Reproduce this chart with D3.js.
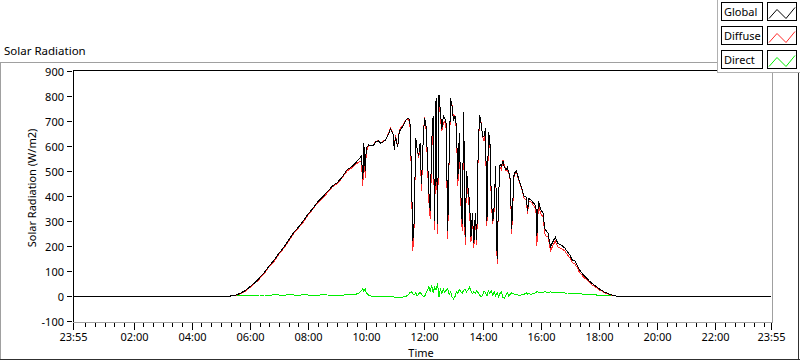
<!DOCTYPE html>
<html>
<head>
<meta charset="utf-8">
<script src="https://cdn.jsdelivr.net/npm/d3@7"></script>
<style>
  html, body { margin: 0; padding: 0; background: #ffffff; }
  svg { display: block; }
  text { font-family: "Noto Sans", "Open Sans", sans-serif; fill: #000; }
</style>
</head>
<body>
<script>
// ---------------- DATA ----------------
const times = [
  "23:55",
  "05:20","05:30","05:40","05:50","06:00","06:10","06:20","06:30","06:40","06:50",
  "07:00","07:10","07:20","07:30","07:40","07:50","08:00","08:10","08:20","08:30",
  "08:40","08:50","09:00","09:10","09:20","09:30","09:40",
  "09:45","09:50","09:53","09:55","09:58","10:00","10:05","10:10","10:15","10:20",
  "10:25","10:30","10:35","10:40","10:45","10:50","10:55","10:58","11:00","11:05",
  "11:08","11:10","11:15","11:20","11:25","11:30",
  "11:33","11:36","11:39","11:42","11:45","11:48","11:51","11:54","11:57","12:00",
  "12:03","12:06","12:09","12:12","12:15","12:18","12:21","12:24","12:27","12:30",
  "12:33","12:36","12:39","12:42","12:45","12:48","12:51","12:54","12:57","13:00",
  "13:03","13:06","13:09","13:12","13:15","13:18","13:21","13:24","13:27","13:30",
  "13:33","13:36","13:39","13:42","13:45","13:48","13:51","13:54","13:57","14:00",
  "14:03","14:06","14:09","14:12","14:15","14:18","14:21","14:24","14:27","14:30",
  "14:33","14:36","14:39","14:42","14:45","14:48","14:51","14:54","14:57","15:00",
  "15:05","15:10","15:15","15:20","15:25","15:30","15:33","15:35","15:40","15:45",
  "15:50","15:52","15:55","16:00","16:05","16:08","16:10",
  "16:15","16:20","16:25","16:30","16:35","16:40","16:45","16:50","16:55","17:00",
  "17:05","17:10","17:15","17:20","17:25","17:30","17:35","17:40","17:45","17:50",
  "17:55","18:00","18:05","18:10","18:15","18:20","18:25","18:30","18:35",
  "23:55"
];

const globalRad = [
  0,
  0,3,11,21,37,53,73,95,121,144,
  171,195,224,253,275,300,328,351,377,397,
  417,440,453,475,504,517,537,
  548,560,470,612,500,590,605,600,604,617,
  621,611,617,624,644,667,651,585,637,597,
  655,664,677,697,711,707,
  517,220,300,631,590,560,610,450,600,711,
  690,570,420,340,620,720,300,790,290,804,
  737,670,720,711,690,260,560,790,760,700,
  720,680,470,650,410,290,737,235,500,430,
  380,237,330,211,330,224,600,724,690,640,
  640,671,300,655,630,390,300,360,520,150,
  400,525,520,540,515,505,515,495,470,270,
  490,500,464,437,400,395,340,390,384,372,
  360,240,380,345,331,270,264,
  251,197,217,235,211,205,200,191,177,164,
  144,141,124,104,91,81,71,60,51,44,
  37,29,24,17,13,9,5,3,0,
  0
];

const diffuseRad = [
  0,
  0,2,9,18,34,50,69,91,118,139,
  167,192,219,249,272,295,324,348,374,392,
  413,437,449,472,499,513,529,
  536,538,440,594,472,578,602,600,605,619,
  622,614,619,625,647,671,654,590,642,601,
  660,670,681,700,709,694,
  500,180,290,618,590,553,593,420,600,714,
  680,549,383,310,576,707,265,766,250,800,
  710,660,693,698,666,228,553,773,763,712,
  723,663,440,623,380,260,713,205,483,406,
  345,216,320,194,320,203,587,720,693,636,
  619,658,280,634,620,369,290,343,520,130,
  403,515,503,545,524,501,502,495,463,250,
  483,494,462,433,394,382,330,380,377,362,
  347,200,365,329,316,253,240,
  238,180,202,220,197,192,187,179,165,153,
  133,130,114,94,83,73,64,54,46,39,
  33,25,21,14,11,7,4,2,0,
  0
];

const directRad = [
  0,
  0,1,2,3,3,3,4,4,3,5,
  4,3,5,4,3,5,4,3,3,5,
  4,3,4,3,5,4,8,
  12,22,30,18,28,12,3,0,-1,-2,
  -1,-3,-2,-1,-3,-4,-3,-5,-5,-4,
  -6,-6,-4,-3,2,13,
  17,10,4,13,0,7,17,6,0,-3,
  10,21,37,17,44,13,35,24,51,-3,
  27,10,27,13,24,31,7,17,-3,-12,
  -3,17,10,27,17,10,24,27,17,24,
  35,21,10,17,10,21,13,4,-3,4,
  21,13,0,21,10,21,4,17,0,13,
  -3,10,17,-5,-9,4,13,0,7,13,
  7,6,2,4,6,13,7,10,7,10,
  13,17,15,16,15,17,16,
  13,16,15,15,14,13,13,12,12,11,
  11,11,10,10,8,8,7,6,5,5,
  4,4,3,3,2,2,1,1,0,
  0
];

const yTicks = [-100, 0, 100, 200, 300, 400, 500, 600, 700, 800, 900];
const xTickLabels = ["23:55","02:00","04:00","06:00","08:00","10:00","12:00",
                     "14:00","16:00","18:00","20:00","22:00","23:55"];
const seriesNames = ["Global", "Diffuse", "Direct"];
const seriesColors = ["#000000", "#ff2a2a", "#00ee00"];

// ---------------- HELPERS ----------------
function toMin(s, i) {
  const [h, m] = s.split(":").map(Number);
  const v = h * 60 + m;
  return i === 0 ? v - 1440 : v;   // first "23:55" belongs to previous day
}

const W = 800, H = 361;
const svg = d3.select("body").append("svg")
  .attr("width", W).attr("height", H);

// outer frame
const frame = svg.append("g").attr("shape-rendering", "crispEdges");
frame.append("line").attr("x1", 0).attr("x2", 717).attr("y1", 62.5).attr("y2", 62.5).attr("stroke", "#a0a0a0");
frame.append("line").attr("x1", 0.5).attr("x2", 0.5).attr("y1", 62).attr("y2", 360).attr("stroke", "#a0a0a0");
frame.append("line").attr("x1", 0).attr("x2", 800).attr("y1", 359.5).attr("y2", 359.5).attr("stroke", "#303030");
frame.append("line").attr("x1", 798.5).attr("x2", 798.5).attr("y1", 62).attr("y2", 360).attr("stroke", "#303030");

// title
svg.append("text").attr("x", 4).attr("y", 55).attr("font-size", 11.5).text("Solar Radiation");

// scales
const x = d3.scaleLinear().domain([-5, 1435]).range([73, 771]);
const y = d3.scaleLinear().domain([-100, 900]).range([321, 71]);

const plotL = 73, plotR = 772, plotT = 70.5, plotB = 322;

// plot frame
const pf = svg.append("g").attr("shape-rendering", "crispEdges");
pf.append("line").attr("x1", plotL).attr("x2", plotR).attr("y1", plotT).attr("y2", plotT).attr("stroke", "#000");
pf.append("line").attr("x1", plotR + 0.5).attr("x2", plotR + 0.5).attr("y1", plotT).attr("y2", plotB + 0.5).attr("stroke", "#a0a0a0");
pf.append("line").attr("x1", plotL).attr("x2", plotR).attr("y1", plotB + 0.5).attr("y2", plotB + 0.5).attr("stroke", "#a0a0a0");
pf.append("line").attr("x1", plotL + 0.5).attr("x2", plotL + 0.5).attr("y1", plotT).attr("y2", plotB).attr("stroke", "#000");

// y axis ticks & labels
const yAxis = svg.append("g").attr("shape-rendering", "crispEdges");
yTicks.forEach(v => {
  const yy = Math.round(y(v)) + 0.5;
  yAxis.append("line").attr("x1", 67).attr("x2", 72).attr("y1", yy).attr("y2", yy).attr("stroke", "#000");
  yAxis.append("text").attr("x", 64).attr("y", yy + 4).attr("text-anchor", "end")
    .attr("font-size", 11).text(v);
});

// x axis ticks & labels
const majorVals = xTickLabels.map((s, i) => toMin(s, i));
const minorVals = d3.range(0, 1435, 20).filter(v => v % 120 !== 0);
const xAxis = svg.append("g").attr("shape-rendering", "crispEdges");
minorVals.forEach(v => {
  const xx = Math.round(x(v)) + 0.5;
  xAxis.append("line").attr("x1", xx).attr("x2", xx).attr("y1", 323).attr("y2", 327).attr("stroke", "#000");
});
majorVals.forEach((v, i) => {
  const xx = Math.round(x(v)) + 0.5;
  xAxis.append("line").attr("x1", xx).attr("x2", xx).attr("y1", 323).attr("y2", 330).attr("stroke", "#000");
  xAxis.append("text").attr("x", xx).attr("y", 341).attr("text-anchor", "middle")
    .attr("font-size", 11).text(xTickLabels[i]);
});

// axis titles
svg.append("text").attr("x", 421).attr("y", 357).attr("text-anchor", "middle")
  .attr("font-size", 11).text("Time");
svg.append("text").attr("transform", "translate(36,188) rotate(-90)")
  .attr("text-anchor", "middle").attr("font-size", 11).text("Solar Radiation (W/m2)");

// data lines (Direct drawn first, Global on top)
const mins = times.map((s, i) => toMin(s, i));
const seriesData = [globalRad, diffuseRad, directRad];
const line = d3.line().x(d => x(d[0])).y(d => y(d[1]));
const plotG = svg.append("g");
[2, 1, 0].forEach(k => {
  const pts = mins.map((m, i) => [m, seriesData[k][i]]);
  plotG.append("path").datum(pts)
    .attr("d", line)
    .attr("fill", "none")
    .attr("stroke", seriesColors[k])
    .attr("stroke-width", 1)
    .attr("shape-rendering", "crispEdges");
});

// legend
const lg = svg.append("g").attr("shape-rendering", "crispEdges");
lg.append("rect").attr("x", 717.5).attr("y", -1).attr("width", 90).attr("height", 73)
  .attr("fill", "#ffffff").attr("stroke", "#b0b0b0");
seriesNames.forEach((name, i) => {
  const ry = 2.5 + i * 24;
  lg.append("rect").attr("x", 721.5).attr("y", ry).attr("width", 41).attr("height", 18)
    .attr("fill", "#ffffff").attr("stroke", "#000");
  lg.append("rect").attr("x", 767.5).attr("y", ry).attr("width", 29).attr("height", 18)
    .attr("fill", "#ffffff").attr("stroke", "#000");
  svg.append("text").attr("x", 724).attr("y", ry + 13.5).attr("font-size", 11).text(name);
  svg.append("polyline")
    .attr("points", [[769, ry + 16], [777, ry + 7], [786, ry + 16], [795, ry + 5]].map(p => p.join(",")).join(" "))
    .attr("fill", "none").attr("stroke", seriesColors[i]).attr("stroke-width", 1);
});
</script>
</body>
</html>
